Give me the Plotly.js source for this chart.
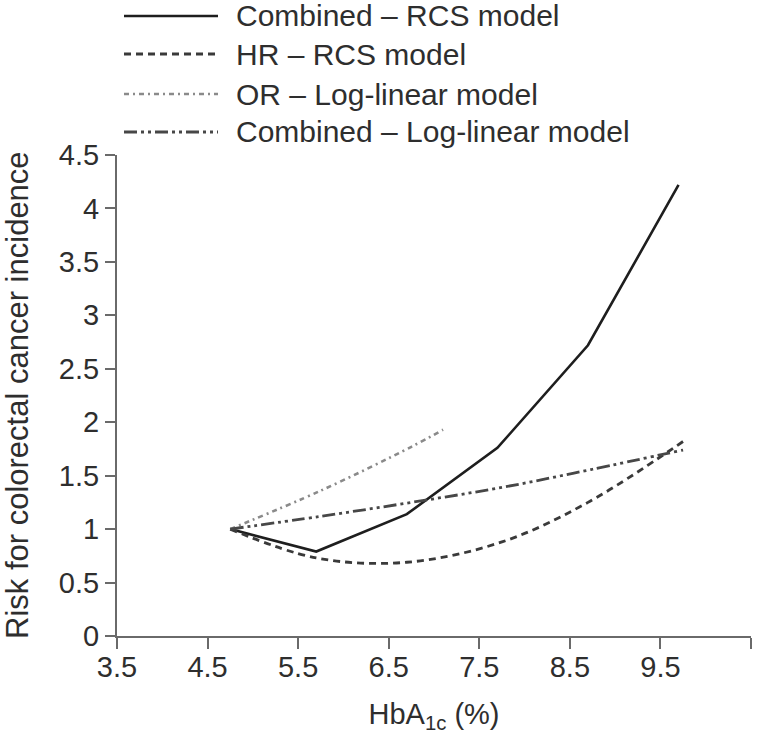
<!DOCTYPE html>
<html>
<head>
<meta charset="utf-8">
<script src="https://cdn.plot.ly/plotly-3.0.1.min.js"></script>
<style>
html, body { margin: 0; padding: 0; background: #fff; overflow: hidden; }
#chart { width: 777px; height: 746px; }
</style>
</head>
<body>
<div id="chart"></div>
<script>
// ---- data ----
const seriesNames = ["Combined \u2013 RCS model", "HR \u2013 RCS model", "OR \u2013 Log-linear model", "Combined \u2013 Log-linear model"];

const combinedRcsX = [4.75, 5.7, 6.7, 7.7, 8.7, 9.7];
const combinedRcsY = [1.0, 0.79, 1.14, 1.76, 2.72, 4.22];

const hrRcsX = [4.75, 5.7, 6.7, 7.75, 8.7, 9.75];
const hrRcsY = [1.0, 0.73, 0.69, 0.88, 1.25, 1.82];

const orLogX = [4.75, 5.75, 6.75, 7.1];
const orLogY = [1.0, 1.36, 1.77, 1.93];

const combinedLogX = [4.75, 5.75, 6.75, 7.75, 8.75, 9.75];
const combinedLogY = [1.0, 1.12, 1.25, 1.39, 1.56, 1.74];

const xTickVals = [3.5, 4.5, 5.5, 6.5, 7.5, 8.5, 9.5, 10.5];
const xTickText = ["3.5", "4.5", "5.5", "6.5", "7.5", "8.5", "9.5", "10.5"];
const yTickVals = [0, 0.5, 1, 1.5, 2, 2.5, 3, 3.5, 4, 4.5];
const yTickText = ["0", "0.5", "1", "1.5", "2", "2.5", "3", "3.5", "4", "4.5"];

const xTitle = "HbA<sub>1c</sub> (%)";
const yTitle = "Risk for colorectal cancer incidence";

// ---- styling ----
const W = 777, H = 746;
const M = {l: 117, r: 26, t: 155, b: 110};
const FONT = "Liberation Sans, Arial, Helvetica, sans-serif";
const FS = 29;
const TXT = "#2e2e2e";
const styles = [
  {color: "#1e1e1e", width: 2.6, dash: "solid"},
  {color: "#3a3a3a", width: 2.8, dash: "7px,5px"},
  {color: "#8a8a8a", width: 2.6, dash: "5px,4px,2px,4px"},
  {color: "#474747", width: 2.8, dash: "13px,4px,3px,4px,3px,4px"}
];
const lineShapes = ["linear", "spline", "spline", "spline"];
const xs = [combinedRcsX, hrRcsX, orLogX, combinedLogX];
const ys = [combinedRcsY, hrRcsY, orLogY, combinedLogY];

const traces = xs.map((x, i) => ({
  type: "scatter", mode: "lines", name: seriesNames[i],
  x: x, y: ys[i],
  line: {color: styles[i].color, width: styles[i].width, dash: styles[i].dash, shape: lineShapes[i]},
  showlegend: false, hoverinfo: "skip"
}));

// legend + y title drawn in paper coordinates
const pw = W - M.l - M.r, ph = H - M.t - M.b;
const px2x = px => (px - M.l) / pw;
const py2y = py => (H - M.b - py) / ph;
const legRows = [16, 54, 94, 132];
const shapes = [], anns = [];
legRows.forEach((py, i) => {
  shapes.push({type: "line", xref: "paper", yref: "paper",
    x0: px2x(124), x1: px2x(218), y0: py2y(py), y1: py2y(py),
    line: {color: styles[i].color, width: styles[i].width, dash: styles[i].dash}});
  anns.push({xref: "paper", yref: "paper", x: px2x(234), y: py2y(py),
    xanchor: "left", yanchor: "middle", showarrow: false, text: seriesNames[i],
    font: {family: FONT, size: 30, color: TXT}});
});
anns.push({xref: "paper", yref: "paper", x: px2x(17), y: py2y(395),
  xanchor: "center", yanchor: "middle", showarrow: false, textangle: -90,
  text: yTitle, font: {family: FONT, size: 31, color: TXT}});

const axisCommon = {
  showline: true, linecolor: "#6a6a6a", linewidth: 2,
  ticks: "outside", tickcolor: "#6a6a6a", tickwidth: 2,
  showgrid: false, zeroline: false, tickmode: "array",
  tickfont: {family: FONT, size: FS, color: TXT}
};

const layout = {
  width: W, height: H, margin: M,
  paper_bgcolor: "#fff", plot_bgcolor: "#fff",
  font: {family: FONT, color: TXT},
  xaxis: Object.assign({}, axisCommon, {
    range: [3.5, 10.5], tickvals: xTickVals, ticktext: xTickText, ticklen: 11,
    ticklabelstandoff: -7,
    title: {text: xTitle, font: {family: FONT, size: FS, color: TXT}, standoff: 22}
  }),
  yaxis: Object.assign({}, axisCommon, {
    range: [0, 4.5], tickvals: yTickVals, ticktext: yTickText, ticklen: 10
  }),
  shapes: shapes,
  annotations: anns,
  showlegend: false
};

Plotly.newPlot("chart", traces, layout, {staticPlot: true, displayModeBar: false});
</script>
</body>
</html>
